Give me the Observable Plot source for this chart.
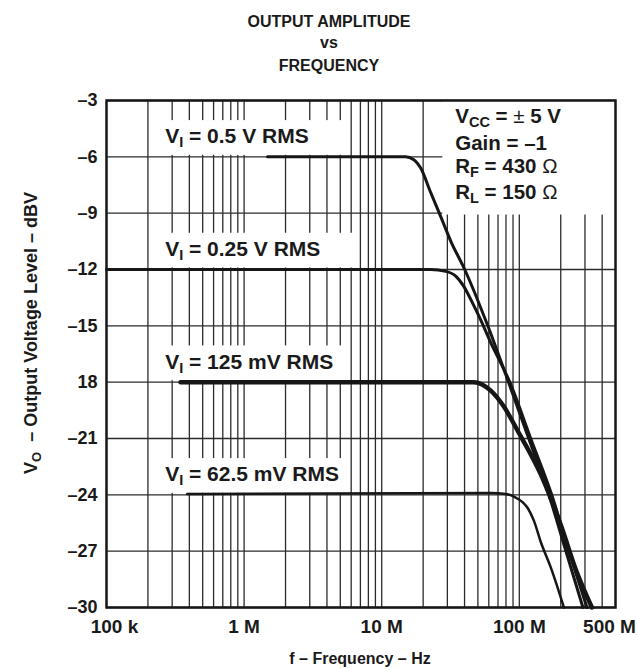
<!DOCTYPE html>
<html><head><meta charset="utf-8">
<script src="https://cdn.jsdelivr.net/npm/d3@7"></script>
<script src="https://cdn.jsdelivr.net/npm/@observablehq/plot@0.6"></script>
<style>body{margin:0;background:#fff} svg{display:block}</style>
</head><body><div id="chart"></div>
<script>
const FONT = '"Liberation Sans", Arial, Helvetica, sans-serif';

// ---- data (frequency in Hz, level in dBV) ----
const freqA  = [1.48e6, 1.49e7, 1.71e7, 1.92e7, 2.27e7, 2.69e7, 3.18e7, 4.01e7, 5.90e7, 8.25e7, 1.17e8, 1.64e8, 2.18e8, 2.90e8];
const levelA = [-6.0,   -6.0,   -6.15,  -6.6,   -7.9,   -9.2,   -10.5,  -12.0,  -15.0,  -17.9,  -21.0,  -24.0,  -27.0,  -30.0];

const freqB  = [1e5,   2.27e7, 2.92e7, 3.45e7, 3.95e7, 4.51e7, 5.25e7, 6.20e7, 8.53e7, 1.21e8, 1.72e8, 2.29e8, 3.10e8];
const levelB = [-12.0, -12.0,  -12.1,  -12.35, -12.9,  -13.7,  -14.7,  -15.9,  -18.0,  -21.0,  -24.0,  -27.0,  -30.0];

const freqC  = [3.45e5, 4.67e7, 6.20e7, 7.72e7, 9.75e7, 1.43e8, 2.00e8, 2.58e8, 3.37e8];
const levelC = [-18.0,  -18.0,  -18.45, -19.3,  -20.6,  -22.9,  -25.6,  -28.0,  -30.0];

const freqD  = [3.86e5, 6.20e7, 7.98e7, 9.43e7, 1.06e8, 1.15e8, 1.28e8, 1.43e8, 1.70e8, 2.11e8];
const levelD = [-23.95, -23.9,  -23.95, -24.15, -24.4,  -24.7,  -25.4,  -26.5,  -27.9,  -30.0];

const curveNames  = ["0.5 V RMS", "0.25 V RMS", "125 mV RMS", "62.5 mV RMS"];
const curveLevels = [-6, -12, -18, -24];
const curveWidths = [3, 3, 4.5, 2.5];
const labelStartFreq = 2.69e5;
const labelBoxLeft   = 2.47e5;
const labelBoxRight  = [5.6e6, 6.6e6, 5.6e6, 5.6e6];

const xTickValues = [1e5, 1e6, 1e7, 1e8, 5e8];
const xTickLabels = ["100 k", "1 M", "10 M", "100 M", "500 M"];
const xTickShift  = [8, 0, 0, 0, -6];
const yTickValues = [-30, -27, -24, -21, -18, -15, -12, -9, -6, -3];
const yTickLabels = ["\u201330", "\u201327", "\u201324", "\u201321", "18", "\u201315", "\u201312", "\u20139", "\u20136", "\u20133"];
const gridFreqs = [2e5, 3e5, 4e5, 5e5, 6e5, 7e5, 8e5, 9e5,
                   1e6, 2e6, 3e6, 4e6, 5e6, 6e6, 7e6, 8e6, 9e6,
                   1e7, 2e7, 3e7, 4e7, 5e7, 6e7, 7e7, 8e7, 9e7,
                   1e8, 2e8, 3e8, 4e8];
const notesBox = {x1: 2.78e7, x2: 5e8, y1: -9.1, y2: -3};
const notesFreq = 3.45e7;

// ---- build tables ----
const series = [[freqA, levelA], [freqB, levelB], [freqC, levelC], [freqD, levelD]];
const lineMarks = series.map(([f, l], k) =>
  Plot.line(f.map((v, i) => ({f: v, db: l[i]})), {x: "f", y: "db", stroke: "#161616", strokeWidth: curveWidths[k], curve: "monotone-x", strokeLinecap: "round"}));
const boxes = curveLevels.map((lv, i) => ({x1: labelBoxLeft, x2: labelBoxRight[i], y1: lv + 0.08, y2: lv + 1.93}));
const yTicks = yTickValues.map((v, i) => ({v, label: yTickLabels[i]}));
const xTicks = xTickValues.map((v, i) => ({v, label: xTickLabels[i], s: xTickShift[i]}));

const plot = Plot.plot({
  width: 638, height: 669,
  marginLeft: 106, marginRight: 23, marginTop: 100, marginBottom: 62,
  x: {type: "log", domain: [1e5, 5e8], axis: null},
  y: {domain: [-30, -3], axis: null},
  style: {fontFamily: FONT, background: "white", color: "#1a1a1a"},
  marks: [
    Plot.ruleX(gridFreqs, {stroke: "#2b2b2b", strokeWidth: 1.3}),
    Plot.ruleY(yTickValues, {stroke: "#2b2b2b", strokeWidth: 1.3}),
    Plot.rect(boxes, {x1: "x1", x2: "x2", y1: "y1", y2: "y2", fill: "white"}),
    Plot.rect([notesBox], {x1: "x1", x2: "x2", y1: "y1", y2: "y2", fill: "white"}),
    ...lineMarks,
    Plot.frame({stroke: "#161616", strokeWidth: 2.5}),
    Plot.text(yTicks, {x: () => 1e5, y: "v", text: "label", textAnchor: "end", dx: -9, fontSize: 18, fontWeight: "bold", fill: "#1a1a1a"}),
    ...xTicks.map(t => Plot.text([t], {x: "v", y: () => -30, text: "label", dy: 19, dx: t.s, fontSize: 19, fontWeight: "bold", fill: "#1a1a1a"}))
  ]
});
document.getElementById("chart").appendChild(plot);

// ---- rich text annotations positioned via the plot's scales ----
const svg = d3.select(plot);
const X = v => plot.scale("x").apply(v);
const Y = v => plot.scale("y").apply(v);
const g = svg.append("g").attr("font-family", FONT).attr("font-weight", "bold").attr("fill", "#1a1a1a").attr("text-anchor", "start");

// title
[["OUTPUT AMPLITUDE", 27], ["vs", 48], ["FREQUENCY", 71]].forEach(([t, y]) =>
  g.append("text").attr("x", 329).attr("y", y).attr("text-anchor", "middle").attr("font-size", 16).text(t));

// curve labels
curveNames.forEach((name, i) => {
  const t = g.append("text").attr("x", X(labelStartFreq)).attr("y", Y(curveLevels[i]) - 13).attr("font-size", 21).attr("text-anchor", "start");
  t.append("tspan").text("V");
  t.append("tspan").attr("font-size", 14.5).attr("dy", 4).text("I");
  t.append("tspan").attr("dy", -4).text(" = " + name);
});

// conditions
const nx = X(notesFreq), ny = Y(-3);
function note(dy, main, sub, rest, sym, tail) {
  const t = g.append("text").attr("x", nx).attr("y", ny + dy).attr("font-size", 20.5).attr("text-anchor", "start");
  t.append("tspan").text(main);
  if (sub) { t.append("tspan").attr("font-size", 14.5).attr("dy", 4).text(sub); t.append("tspan").attr("dy", -4).text(rest); }
  else t.append("tspan").text(rest);
  if (sym) t.append("tspan").attr("font-weight", "normal").text(sym);
  if (tail) t.append("tspan").text(tail);
}
note(23, "V", "CC", " = ", "\u00b1", " 5 V");
note(50, "Gain = \u20131", null, "", null, null);
note(73, "R", "F", " = 430 ", "\u03a9", null);
note(99, "R", "L", " = 150 ", "\u03a9", null);

// axis titles
g.append("text").attr("x", 360).attr("y", 664).attr("text-anchor", "middle").attr("font-size", 16).text("f \u2013 Frequency \u2013 Hz");
const yt = g.append("text").attr("transform", "translate(37,333) rotate(-90)").attr("text-anchor", "middle").attr("font-size", 18);
yt.append("tspan").text("V");
yt.append("tspan").attr("font-size", 13).attr("dy", 4).text("O");
yt.append("tspan").attr("dy", -4).text("\u00a0\u00a0\u2013 Output Voltage Level \u2013 dBV");
</script></body></html>
